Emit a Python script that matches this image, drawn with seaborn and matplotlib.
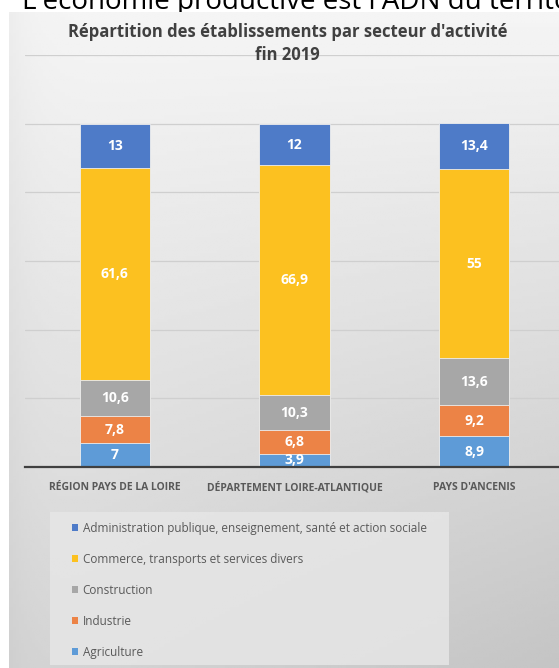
import numpy as np
import pandas as pd
import matplotlib
matplotlib.use("Agg")
import matplotlib.pyplot as plt
from matplotlib.patches import Patch, Rectangle
import seaborn as sns

# data (en %)
territoires = ["RÉGION PAYS DE LA LOIRE", "DÉPARTEMENT LOIRE-ATLANTIQUE", "PAYS D'ANCENIS"]
secteurs = ["Agriculture", "Industrie", "Construction",
            "Commerce, transports et services divers",
            "Administration publique, enseignement, santé et action sociale"]
agriculture = [7, 3.9, 8.9]
industrie = [7.8, 6.8, 9.2]
construction = [10.6, 10.3, 13.6]
commerce = [61.6, 66.9, 55]
administration = [13, 12, 13.4]
couleurs = ["#5E9BD7", "#EC8346", "#A7A7A7", "#FCC120", "#4E7BC8"]

valeurs = [agriculture, industrie, construction, commerce, administration]
rows = []
for s, vals in zip(secteurs, valeurs):
    for t, v in zip(territoires, vals):
        rows.append({"territoire": t, "secteur": s, "valeur": v})
df = pd.DataFrame(rows)
df["cumul"] = df.groupby("territoire", sort=False)["valeur"].cumsum()

sns.set_theme(style="white")
plt.rcParams["font.family"] = ["Open Sans", "DejaVu Sans"]

W, H = 559, 668
fig = plt.figure(figsize=(W / 100, H / 100), dpi=100)
fig.patch.set_facecolor("white")

# texte coupé en haut de la capture
fig.text(22 / W, 1 - 9 / H, "L'économie productive est l'ADN du territoire",
         fontsize=20, color="black", va="baseline", ha="left", zorder=-5)

# fond dégradé du bloc graphique
bg = fig.add_axes([9 / W, 0, 1 - 9 / W, 1 - 12 / H], zorder=0)
yy, xx = np.mgrid[0:1:200j, 0:1:200j]
grad = 0.96 - 0.12 * yy - 0.07 * xx * yy - 0.03 * np.exp(-xx * 25)
bg.imshow(grad, cmap="gray", vmin=0, vmax=1, aspect="auto", extent=[0, 1, 0, 1], origin="upper")
bg.set_axis_off()

ax = fig.add_axes([25 / W, 1 - 467 / H, 539 / W, (467 - 55) / H], zorder=1)
ax.set_facecolor("none")

# empilement : on trace les cumuls du plus grand au plus petit
for s, c in zip(secteurs[::-1], couleurs[::-1]):
    sub = df[df["secteur"] == s]
    sns.barplot(data=sub, x="territoire", y="cumul", color=c, width=0.39,
                errorbar=None, ax=ax, saturation=1, edgecolor="#eeeeee",
                linewidth=0.6, order=territoires, zorder=3)

for _, r in df.iterrows():
    i = territoires.index(r["territoire"])
    lab = f"{r['valeur']:g}".replace(".", ",")
    ax.text(i, r["cumul"] - r["valeur"] / 2, lab, ha="center", va="center",
            color="white", fontsize=10, fontweight="bold", zorder=5)

ax.set_ylim(0, 120)
ax.set_xlim(-0.5, 2.5)
ax.set_yticks(np.arange(0, 121, 20))
ax.yaxis.grid(True, color="#cfcfcf", linewidth=0.9)
ax.set_axisbelow(True)
ax.tick_params(axis="y", left=False, labelleft=False)
ax.tick_params(axis="x", bottom=False, pad=5)
ax.set_xlabel("")
ax.set_ylabel("")
for sp in ["top", "right", "left"]:
    ax.spines[sp].set_visible(False)
ax.spines["bottom"].set_color("#404040")
ax.spines["bottom"].set_linewidth(1.6)
ax.spines["bottom"].set_zorder(6)

ax.set_xticks(range(len(territoires)))
ax.set_xticklabels(territoires, fontsize=7.5, fontweight="bold", color="#595959")

fig.text(288 / W, 1 - 32 / H, "Répartition des établissements par secteur d'activité",
         ha="center", va="center", fontsize=12, fontweight="bold", color="#404040", zorder=5)
fig.text(287 / W, 1 - 55 / H, "fin 2019",
         ha="center", va="center", fontsize=12, fontweight="bold", color="#404040", zorder=5)

# cadre de la légende
fig.add_artist(Rectangle((50 / W, 1 - 665 / H), (449 - 50) / W, (665 - 512) / H,
                         transform=fig.transFigure, facecolor="#e6e6e6",
                         edgecolor="none", alpha=0.85, zorder=2))

handles = [Patch(facecolor=c, edgecolor="none") for c in couleurs[::-1]]
leg = fig.legend(handles, secteurs[::-1], loc="upper left",
                 bbox_to_anchor=(72 / W, 1 - 522 / H), frameon=False,
                 fontsize=8.5, labelcolor="#595959", handlelength=0.55, handleheight=0.55,
                 handletextpad=0.35, labelspacing=1.52, borderpad=0, borderaxespad=0)
leg.set_zorder(4)

fig.savefig("out.png", dpi=100)
